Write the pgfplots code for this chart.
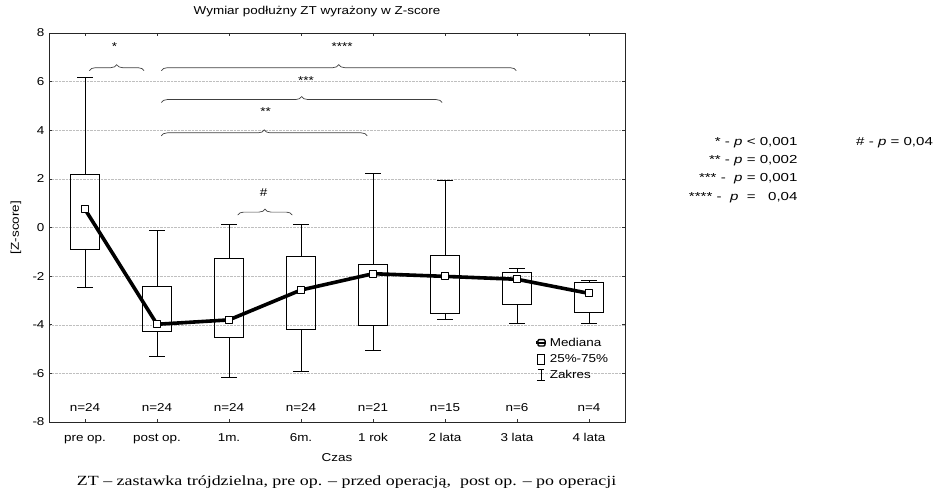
\documentclass[border=0pt]{standalone}
\usepackage{fontspec}
\setmainfont{Liberation Sans}[FakeStretch=1.18]
\newfontfamily\keyfont{Liberation Sans}[FakeStretch=1.3]
\newfontfamily\serifcap{Liberation Serif}[FakeStretch=1.28]
\usepackage{pgfplots}
\pgfplotsset{compat=1.18}
\usepgfplotslibrary{statistics}
\usetikzlibrary{decorations.pathreplacing}

% one box per time point: position, min, Q1, median, Q3, max
\newcommand{\zbox}[6]{%
  \addplot[black, line width=0.8pt, forget plot,
    /pgfplots/boxplot/draw/median/.code={},
    boxplot prepared={draw direction=y, draw position=#1,
      lower whisker=#2, lower quartile=#3,
      median=#4, upper quartile=#5, upper whisker=#6,
      box extend=0.4, whisker extend=0.22}]
    coordinates {};}

\newcommand{\lblfont}{\fontsize{11.4}{13}\selectfont}

\begin{document}
\begin{tikzpicture}
\useasboundingbox (0,0) rectangle (939pt,491pt);
\begin{axis}[
  at={(49pt,69pt)}, anchor=south west,
  scale only axis, width=576pt, height=389pt,
  xmin=-0.5, xmax=7.5, ymin=-8, ymax=8,
  xtick={0,...,7},
  xticklabels={pre op., post op., 1m., 6m., 1 rok, 2 lata, 3 lata, 4 lata},
  ytick={-8,-6,...,8},
  tick align=inside, major tick length=3pt,
  tick style={black!80, line width=0.6pt},
  axis line style={black!85, line width=0.8pt},
  ymajorgrids, major grid style={densely dotted, black!25, line width=0.4pt},
  /pgf/number format/assume math mode=true,
  tick label style={font=\lblfont},
  xticklabel style={anchor=base, yshift=-19pt},
  yticklabel style={xshift=-1pt},
  ylabel={[Z-score]},
  ylabel style={at={(axis description cs:-0.0573,0.5)}, anchor=center,
    font=\lblfont},
  xlabel={Czas},
  xlabel style={at={(axis description cs:0.5,-0.0925)}, anchor=center,
    font=\lblfont},
  title={Wymiar podłużny ZT wyrażony w Z-score},
  title style={at={(axis description cs:0.4653,1.041)}, anchor=center,
    font=\lblfont},
  legend style={at={(axis cs:6.25,-4.45)}, anchor=north west, draw=none,
    fill=none, inner sep=0pt, row sep=2.6pt,
    font=\lblfont},
  legend cell align=left,
  clip=false,
]
% boxes (range and interquartile range)
\zbox{0}{-2.45}{-0.88}{0.75}{2.20}{6.18}
\zbox{1}{-5.30}{-4.26}{-3.98}{-2.44}{-0.10}
\zbox{2}{-6.18}{-4.53}{-3.80}{-1.26}{0.13}
\zbox{3}{-5.92}{-4.19}{-2.57}{-1.17}{0.13}
\zbox{4}{-5.05}{-4.04}{-1.90}{-1.52}{2.23}
\zbox{5}{-3.77}{-3.53}{-2.01}{-1.16}{1.93}
\zbox{6}{-3.94}{-3.16}{-2.13}{-1.84}{-1.68}
\zbox{7}{-3.94}{-3.49}{-2.71}{-2.26}{-2.16}

% medians joined over time
\addplot[black, line width=3.6pt, line join=round, forget plot,
  mark=square*, mark size=3.5pt,
  mark options={fill=white, draw=black, line width=1pt}]
  coordinates {(0,0.75) (1,-3.98) (2,-3.80) (3,-2.57) (4,-1.90) (5,-2.01) (6,-2.13) (7,-2.71)};

% legend
\addlegendimage{legend image code/.code={
  \draw[line width=2.6pt] (0pt,0pt) -- (10pt,0pt);
  \draw[line width=1.4pt, fill=white, rounded corners=1pt] (1.5pt,-3.2pt) rectangle (8.5pt,3.2pt);
  \draw[line width=1.6pt] (1.5pt,0pt) -- (8.5pt,0pt);}}
\addlegendentry{Mediana}
\addlegendimage{legend image code/.code={
  \draw[line width=0.7pt] (1pt,-5pt) rectangle (8pt,5pt);}}
\addlegendentry{25\%-75\%}
\addlegendimage{legend image code/.code={
  \draw[line width=0.7pt] (4.5pt,-5.5pt) -- (4.5pt,5.5pt)
    (0.5pt,-5.5pt) -- (8.5pt,-5.5pt) (1.5pt,5.5pt) -- (7.5pt,5.5pt);}}
\addlegendentry{Zakres}

% sample sizes
\begin{scope}[font=\lblfont]
  \node at (axis cs:0,-7.4) {n=24};
  \node at (axis cs:1,-7.4) {n=24};
  \node at (axis cs:2,-7.4) {n=24};
  \node at (axis cs:3,-7.4) {n=24};
  \node at (axis cs:4,-7.4) {n=21};
  \node at (axis cs:5,-7.4) {n=15};
  \node at (axis cs:6,-7.4) {n=6};
  \node at (axis cs:7,-7.4) {n=4};
\end{scope}

% significance braces
\begin{scope}[black!75, line width=0.7pt, decoration={brace, amplitude=6pt}]
  \draw[decorate] (axis cs:0.06,6.45) -- (axis cs:0.82,6.45);
  \draw[decorate] (axis cs:1.06,6.45) -- (axis cs:5.99,6.45);
  \draw[decorate] (axis cs:1.06,5.14) -- (axis cs:4.96,5.14);
  \draw[decorate] (axis cs:1.06,3.77) -- (axis cs:3.92,3.77);
  \draw[decorate] (axis cs:2.12,0.51) -- (axis cs:2.88,0.51);
\end{scope}
\begin{scope}[font=\lblfont]
  \node at (axis cs:0.41,7.45) {*};
  \node at (axis cs:3.57,7.45) {****};
  \node at (axis cs:3.07,6.05) {***};
  \node at (axis cs:2.51,4.78) {**};
  \node at (axis cs:2.48,1.42) {\#};
\end{scope}
\end{axis}

% key to the significance marks
\begin{scope}[font=\keyfont\fontsize{11.6}{14}\selectfont]
  \node[anchor=base east, inner sep=0pt] at (797.7pt,345.3pt) {* - \textit{p} < 0,001};
  \node[anchor=base east, inner sep=0pt] at (797.7pt,327.7pt) {** - \textit{p} = 0,002};
  \node[anchor=base east, inner sep=0pt] at (797.7pt,309.3pt) {*** -\ \ \textit{p} = 0,001};
  \node[anchor=base east, inner sep=0pt] at (797.7pt,291pt) {**** -\ \ \textit{p}\ \ =\ \ \ 0,04};
  \node[anchor=base west, inner sep=0pt] at (856pt,345.3pt) {\# - \textit{p} = 0,04};
\end{scope}

% caption line
\node[anchor=base west, inner sep=0pt, font=\serifcap\fontsize{14}{16}\selectfont]
  at (76.7pt,6pt) {ZT – zastawka trójdzielna, pre op. – przed operacją,\ \ post op. – po operacji};
\end{tikzpicture}
\end{document}
